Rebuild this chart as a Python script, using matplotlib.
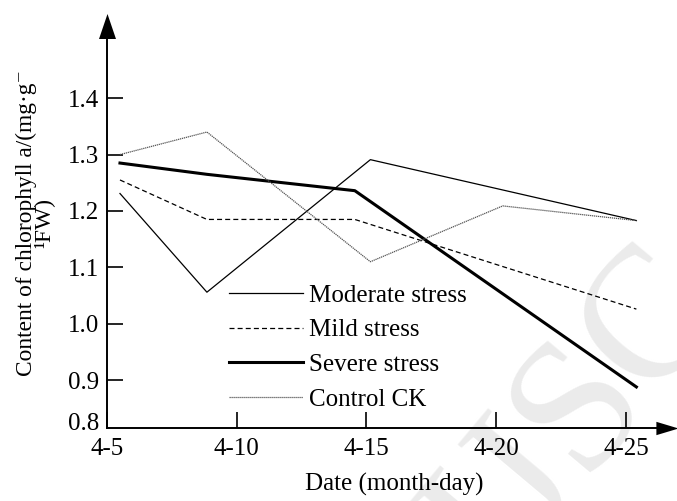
import matplotlib
matplotlib.use('Agg')
import matplotlib.pyplot as plt

plt.rcParams['font.family'] = ['Liberation Serif', 'DejaVu Serif']

# sampling day (April) and chlorophyll a content for each treatment
moderate_days = [5.5, 8.85, 15.15, 25.4]
moderate = [1.231, 1.056, 1.291, 1.183]

mild_days = [5.5, 8.85, 14.55, 25.4]
mild = [1.255, 1.185, 1.185, 1.026]

severe_days = [5.5, 8.85, 14.55, 25.4]
severe = [1.285, 1.265, 1.236, 0.888]

control_days = [5.5, 8.85, 15.15, 20.25, 25.4]
control = [1.300, 1.340, 1.110, 1.209, 1.183]

tick_days = [5, 10, 15, 20, 25]
tick_names = ['4-5', '4-10', '4-15', '4-20', '4-25']
y_ticks = [0.9, 1.0, 1.1, 1.2, 1.3, 1.4]

fig = plt.figure(figsize=(6.77, 5.01), dpi=100)
ax = fig.add_axes([107/677, 73/501, 560/677, 402/501])
ax.patch.set_visible(False)

# faint journal watermark behind the plot
fig.text(0.855, 0.175, 'IJSC', rotation=50, fontsize=135, color='#ebebeb',
         ha='center', va='center', zorder=-5)

l1, = ax.plot(moderate_days, moderate, color='black', lw=0.9)
l2, = ax.plot(mild_days, mild, color='black', lw=0.9, dashes=(4, 2.5))
l3, = ax.plot(severe_days, severe, color='black', lw=2.2)
l4, = ax.plot(control_days, control, color='#555555', lw=0.9, dashes=(1, 0.6))

ax.set_xlim(5, 26.58)
ax.set_ylim(0.8152, 1.528)

for s in ['top', 'right']:
    ax.spines[s].set_visible(False)
for s in ['left', 'bottom']:
    ax.spines[s].set_linewidth(1.4)

# arrow heads on the axes
up_tri = [(-0.34, -0.5), (0.34, -0.5), (0, 0.5)]
right_tri = [(-0.5, -0.3), (-0.5, 0.3), (0.5, 0)]
ax.plot([0], [1], marker=up_tri, ms=18, color='black', mew=0,
        transform=ax.transAxes, clip_on=False)
ax.plot([1], [0], marker=right_tri, ms=16, color='black', mew=0,
        transform=ax.transAxes, clip_on=False)

ax.set_xticks(tick_days)
ax.set_xticklabels(tick_names)
ax.set_yticks(y_ticks)
ax.set_yticklabels(['%.1f' % v for v in y_ticks])
ax.tick_params(axis='both', direction='in', length=11.5, width=1.2,
               labelsize=18)
ax.tick_params(axis='x', pad=7)
ax.tick_params(axis='y', pad=5.5)
ax.text(-0.0143, 0.01, '0.8', transform=ax.transAxes, ha='right',
        va='center', fontsize=18)

ax.set_xlabel('Date (month-day)', fontsize=18)
ax.xaxis.set_label_coords(0.5125, -0.112)
ax.set_ylabel('Content of chlorophyll a/(mg·g\u207b\n¹FW)', fontsize=16.8,
              linespacing=0.85, va='center', ha='center')
ax.yaxis.set_label_coords(-0.1277, 0.51)

ax.legend([l1, l2, l3, l4],
          ['Moderate stress', 'Mild stress', 'Severe stress', 'Control CK'],
          loc='upper left', bbox_to_anchor=(229/677, 1 - 284/501),
          bbox_transform=fig.transFigure, frameon=False, fontsize=18,
          handlelength=2.96, handletextpad=0.25, labelspacing=0.49,
          borderpad=0, borderaxespad=0)

fig.savefig('out.png', dpi=100)
